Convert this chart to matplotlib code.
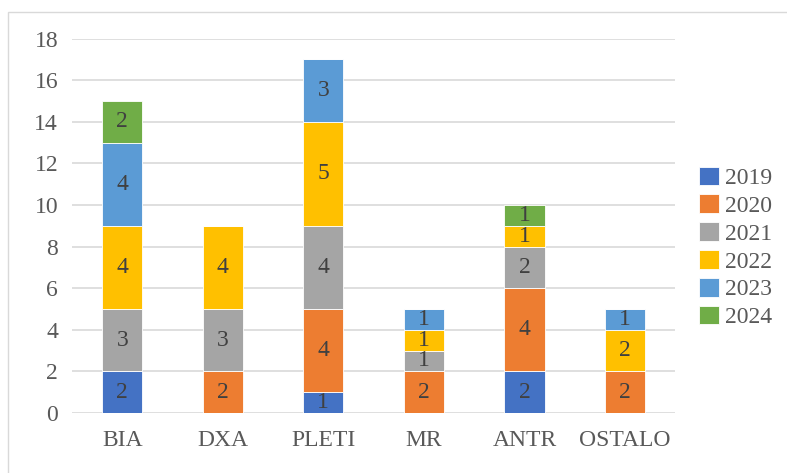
import numpy as np
import matplotlib.pyplot as plt
from matplotlib.patches import Rectangle

plt.rcParams['font.family'] = ['Liberation Serif', 'DejaVu Serif']

categories = ['BIA', 'DXA', 'PLETI', 'MR', 'ANTR', 'OSTALO']
years = ['2019', '2020', '2021', '2022', '2023', '2024']
v2019 = [2, 0, 1, 0, 2, 0]
v2020 = [0, 2, 4, 2, 4, 2]
v2021 = [3, 3, 4, 1, 2, 0]
v2022 = [4, 4, 5, 1, 1, 2]
v2023 = [4, 0, 3, 1, 0, 1]
v2024 = [2, 0, 0, 0, 1, 0]
series = [v2019, v2020, v2021, v2022, v2023, v2024]
colors = ['#4472C4', '#ED7D31', '#A5A5A5', '#FFC000', '#5B9BD5', '#70AD47']

fig = plt.figure(figsize=(7.87, 4.73), dpi=100)
ax = fig.add_axes([0.0915, 0.127, 0.7665, 0.7916])

# outer chart border
fig.patches.append(Rectangle((8 / 787, -0.05), 1.0, 1 - 12 / 473 + 0.05,
                             transform=fig.transFigure, fill=False,
                             edgecolor='#d9d9d9', linewidth=1))

x = np.arange(len(categories))
bottom = np.zeros(len(categories))
for name, vals, c in zip(years, series, colors):
    vals = np.array(vals)
    ax.bar(x, vals, 0.4, bottom=bottom, color=c, edgecolor='#ffffff',
           linewidth=0.6, label=name, zorder=3)
    for i, v in enumerate(vals):
        if v > 0:
            ax.text(x[i], bottom[i] + v / 2, str(v), ha='center', va='center',
                    fontsize=17, color='#404040', zorder=4)
    bottom += vals

ax.set_ylim(0, 18)
ax.set_xlim(-0.5, len(categories) - 0.5)
ax.set_yticks(range(0, 19, 2))
ax.set_xticks(x)
ax.set_xticklabels(categories)
ax.tick_params(length=0, labelsize=17, colors='#595959')
ax.tick_params(axis='x', pad=12)
ax.tick_params(axis='y', pad=10)
for s in ax.spines.values():
    s.set_visible(False)
ax.grid(axis='y', color='#d9d9d9', linewidth=1.2, zorder=0)

ax.legend(loc='center left', bbox_to_anchor=(0.888, 0.477),
          bbox_transform=fig.transFigure, borderaxespad=0, borderpad=0,
          frameon=False, fontsize=17, handlelength=0.85, handleheight=0.85,
          handletextpad=0.25, labelspacing=0.22, labelcolor='#595959')

fig.savefig('out.png', dpi=100)
